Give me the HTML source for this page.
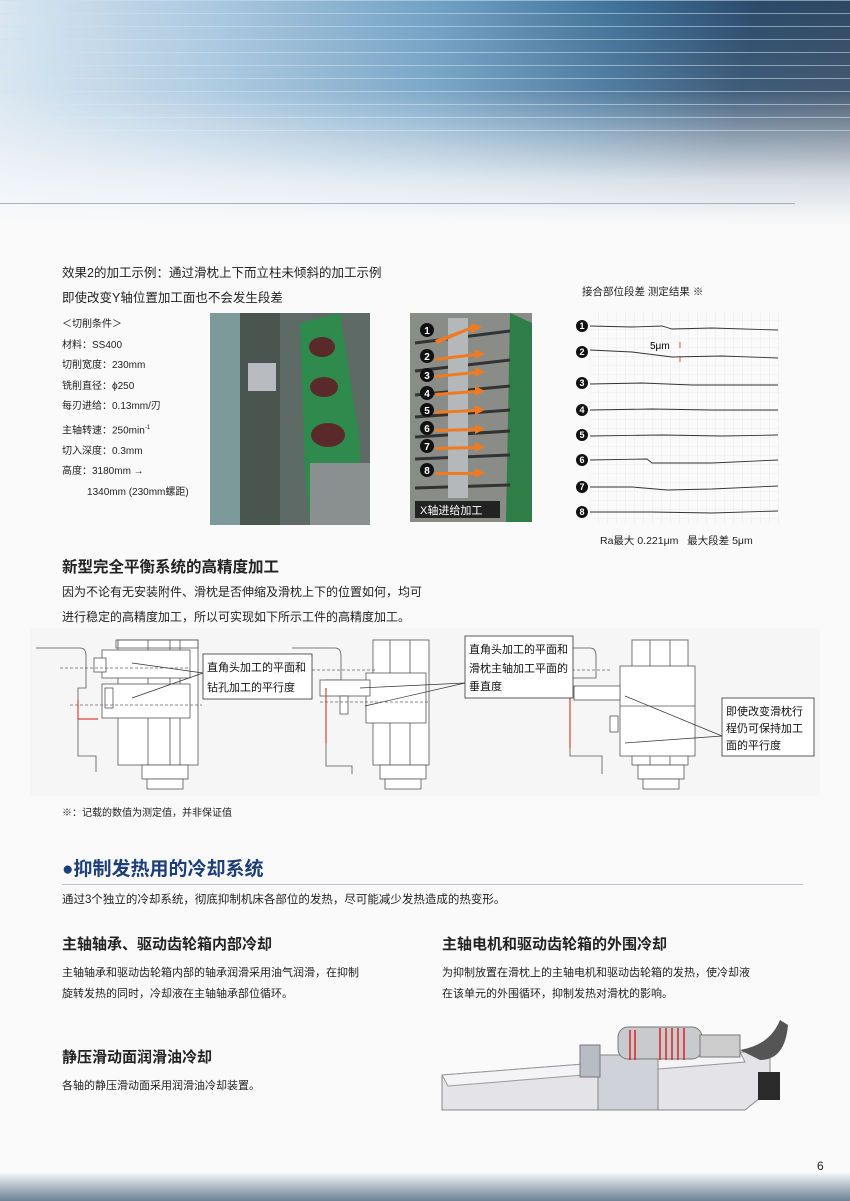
<!DOCTYPE html>
<html><head><meta charset="utf-8"><style>
body{margin:0;width:850px;height:1201px;position:relative;background:#fafafa;font-family:"Liberation Sans","Noto Sans CJK SC",sans-serif;color:#222;overflow:hidden}
.a{position:absolute;white-space:nowrap}
.hdr{position:absolute;left:0;top:0;width:850px;height:225px;background:linear-gradient(100deg,#d9e6f0 0%,#a9c7df 25%,#6f9fc2 50%,#3f6f96 70%,#2a4a6a 85%,#30465e 100%)}
.hdr2{position:absolute;left:0;top:0;width:850px;height:225px;background:linear-gradient(180deg,rgba(255,255,255,0) 0%,rgba(255,255,255,0.1) 40%,rgba(245,247,250,0.85) 80%,#fafafa 100%)}
.stripes{position:absolute;left:0;top:0;width:850px;height:135px;background:repeating-linear-gradient(180deg,rgba(200,225,245,0.55) 0 1px,transparent 1px 13px)}
.s{font-size:10px;line-height:20.6px}
.b{font-weight:bold}
</style></head><body>
<div class="hdr"></div><div class="stripes"></div><div class="hdr2"></div>
<div class="a" style="left:0;top:203px;width:795px;height:1px;background:#a4b2c8"></div>

<div class="a" style="left:62px;top:262px;font-size:12.5px">效果2的加工示例：通过滑枕上下而立柱未倾斜的加工示例</div>
<div class="a" style="left:62px;top:287px;font-size:12.5px">即使改变Y轴位置加工面也不会发生段差</div>
<div class="a s" style="left:62px;top:315px">＜切削条件＞<br>材料：SS400<br>切削宽度：230mm<br>铣削直径：ϕ250<br>每刃进给：0.13mm/刃<br>主轴转速：250min<sup style="font-size:6px">-1</sup><br>切入深度：0.3mm<br>高度：3180mm →<br>&nbsp;&nbsp;&nbsp;&nbsp;&nbsp;&nbsp;&nbsp;&nbsp;&nbsp;1340mm (230mm螺距)</div>

<svg class="a" style="left:210px;top:313px" width="160" height="212">
<rect width="160" height="212" fill="#5d6a66"/>
<rect width="50" height="212" fill="#7d9a9a"/>
<rect x="30" y="0" width="40" height="212" fill="#4a5550"/>
<polygon points="90,10 130,0 150,130 150,212 100,212 95,160" fill="#2f8a4e"/>
<ellipse cx="112" cy="34" rx="13" ry="10" fill="#5a2a2a"/>
<ellipse cx="114" cy="74" rx="14" ry="10" fill="#5a2a2a"/>
<ellipse cx="118" cy="122" rx="17" ry="12" fill="#5a2a2a"/>
<rect x="38" y="50" width="28" height="28" fill="#b8bcc0"/>
<rect x="100" y="150" width="60" height="62" fill="#8a9090"/>
</svg>

<svg class="a" style="left:410px;top:313px" width="122" height="209">
<rect width="122" height="209" fill="#8a8c88"/>
<polygon points="100,0 122,10 122,209 96,209" fill="#2f7d47"/>
<g stroke="#333" stroke-width="3"><line x1="5" y1="30" x2="100" y2="18"/><line x1="5" y1="58" x2="100" y2="47"/><line x1="5" y1="82" x2="100" y2="73"/><line x1="5" y1="104" x2="100" y2="97"/><line x1="5" y1="124" x2="100" y2="118"/><line x1="5" y1="146" x2="100" y2="142"/><line x1="5" y1="175" x2="100" y2="172"/></g>
<rect x="38" y="5" width="20" height="180" fill="#b5b8ba"/>
<g fill="#f07a20"><polygon points="25,27 60,14 62,10 72,14 62,20 60,17 27,31"/><polygon points="25,45 65,40 65,36 75,41 65,46 65,43 25,48"/><polygon points="25,62 65,58 65,54 75,59 65,64 65,61 25,65"/><polygon points="25,80 65,77 65,73 75,78 65,83 65,80 25,83"/><polygon points="25,98 65,96 65,92 75,97 65,102 65,99 25,101"/><polygon points="25,116 65,115 65,111 75,116 65,121 65,118 25,119"/><polygon points="25,134 65,133 65,129 75,134 65,139 65,136 25,137"/><polygon points="25,159 65,159 65,155 75,160 65,165 65,162 25,162"/></g>
<g fill="#111" font-size="11" font-weight="bold" text-anchor="middle"><circle cx="17" cy="17" r="7"/><circle cx="17" cy="43" r="7"/><circle cx="17" cy="62" r="7"/><circle cx="17" cy="80" r="7"/><circle cx="17" cy="97" r="7"/><circle cx="17" cy="115" r="7"/><circle cx="17" cy="133" r="7"/><circle cx="17" cy="157" r="7"/></g>
<g fill="#fff" font-size="10" font-weight="bold" text-anchor="middle" font-family="Liberation Sans"><text x="17" y="21">1</text><text x="17" y="47">2</text><text x="17" y="66">3</text><text x="17" y="84">4</text><text x="17" y="101">5</text><text x="17" y="119">6</text><text x="17" y="137">7</text><text x="17" y="161">8</text></g>
<rect x="5" y="188" width="85" height="17" fill="#222"/>
<text x="10" y="201" fill="#fff" font-size="11" font-family="Liberation Sans,Noto Sans CJK SC">X轴进给加工</text>
</svg>

<div class="a" style="left:582px;top:284px;font-size:10.5px">接合部位段差 测定结果 ※</div>
<svg class="a" style="left:572px;top:312px" width="210" height="212">
<defs><pattern id="g" width="9" height="9" patternUnits="userSpaceOnUse"><path d="M9 0V9H0" fill="none" stroke="#e2e2e2" stroke-width="0.6"/></pattern></defs>
<rect x="18" y="0" width="190" height="212" fill="url(#g)"/>
<g fill="none" stroke="#333" stroke-width="0.9">
<path d="M18 14 L60 15 L90 14 L100 17 L140 16 L206 18"/>
<path d="M18 38 L60 40 L100 45 L150 44 L206 46"/>
<path d="M18 72 L70 71 L120 73 L206 73"/>
<path d="M18 98 L80 97 L140 98 L206 98"/>
<path d="M18 124 L90 123 L150 124 L206 123"/>
<path d="M18 148 L75 147 L80 151 L140 151 L206 148"/>
<path d="M18 175 L60 175 L95 178 L140 177 L206 174"/>
<path d="M18 200 L80 200 L140 201 L206 199"/>
</g>
<g fill="#111"><circle cx="10" cy="14" r="6"/><circle cx="10" cy="40" r="6"/><circle cx="10" cy="71" r="6"/><circle cx="10" cy="98" r="6"/><circle cx="10" cy="123" r="6"/><circle cx="10" cy="148" r="6"/><circle cx="10" cy="175" r="6"/><circle cx="10" cy="200" r="6"/></g>
<g fill="#fff" font-size="9" font-weight="bold" text-anchor="middle" font-family="Liberation Sans"><text x="10" y="17">1</text><text x="10" y="43">2</text><text x="10" y="74">3</text><text x="10" y="101">4</text><text x="10" y="126">5</text><text x="10" y="151">6</text><text x="10" y="178">7</text><text x="10" y="203">8</text></g>
<text x="78" y="37" font-size="10" font-family="Liberation Sans">5μm</text>
<g stroke="#d22" stroke-width="0.8"><line x1="108" y1="30" x2="108" y2="36"/><line x1="108" y1="44" x2="108" y2="50"/></g>
</svg>
<div class="a" style="left:600px;top:533px;font-size:10.5px">Ra最大 0.221μm&nbsp;&nbsp;&nbsp;最大段差 5μm</div>

<div class="a b" style="left:62px;top:555px;font-size:15.5px">新型完全平衡系统的高精度加工</div>
<div class="a" style="left:62px;top:583px;font-size:12px">因为不论有无安装附件、滑枕是否伸缩及滑枕上下的位置如何，均可</div>
<div class="a" style="left:62px;top:608px;font-size:12px">进行稳定的高精度加工，所以可实现如下所示工件的高精度加工。</div>

<svg class="a" style="left:30px;top:628px" width="790" height="168">
<rect width="790" height="168" fill="#f6f6f6"/>
<g fill="#fff" stroke="#555" stroke-width="0.8">
<!-- diagram 1 -->
<path d="M6 20 H50 Q56 20 56 28 V60 H48 V128 H66 V144" fill="none"/>
<rect x="88" y="12" width="80" height="125"/>
<rect x="86" y="12" width="82" height="8" fill="none"/>
<line x1="118" y1="12" x2="118" y2="137"/><line x1="140" y1="12" x2="140" y2="137"/><line x1="150" y1="12" x2="150" y2="137"/>
<rect x="72" y="22" width="88" height="28"/>
<rect x="72" y="56" width="88" height="34"/>
<rect x="64" y="30" width="12" height="14"/>
<rect x="75" y="60" width="8" height="20"/>
<rect x="112" y="137" width="46" height="14"/>
<rect x="117" y="151" width="36" height="10"/>
<!-- diagram 2 -->
<path d="M262 20 H305 Q311 20 311 28 V52 H296 V138 H322 V146" fill="none"/>
<rect x="343" y="12" width="56" height="125"/>
<line x1="360" y1="12" x2="360" y2="137"/><line x1="380" y1="12" x2="380" y2="137"/>
<rect x="336" y="45" width="60" height="50"/>
<rect x="290" y="52" width="50" height="16"/>
<rect x="310" y="68" width="8" height="18"/>
<rect x="350" y="137" width="46" height="14"/>
<rect x="355" y="151" width="36" height="10"/>
<!-- diagram 3 -->
<path d="M512 20 H560 Q566 20 566 28 V50 H540 V128 H572 V146" fill="none"/>
<rect x="602" y="12" width="56" height="125"/>
<line x1="620" y1="12" x2="620" y2="137"/><line x1="640" y1="12" x2="640" y2="137"/>
<rect x="590" y="38" width="75" height="90"/>
<line x1="590" y1="78" x2="665" y2="78"/>
<rect x="544" y="58" width="46" height="14"/>
<rect x="580" y="88" width="8" height="16"/>
<rect x="608" y="137" width="46" height="14"/>
<rect x="613" y="151" width="36" height="10"/>
</g>
<g stroke="#d43" stroke-width="1.2" fill="none"><path d="M48 72 V91 H68"/><path d="M296 60 V115"/><path d="M540 62 V120"/></g>
<g stroke="#666" stroke-width="0.7" stroke-dasharray="3 2" fill="none"><line x1="30" y1="40" x2="160" y2="40"/><line x1="40" y1="77" x2="172" y2="77"/><line x1="262" y1="42" x2="345" y2="42"/><line x1="290" y1="74" x2="400" y2="74"/><line x1="512" y1="42" x2="580" y2="42"/></g>
<g stroke="#333" stroke-width="0.7"><line x1="102" y1="35" x2="173" y2="45"/><line x1="102" y1="70" x2="173" y2="45"/><line x1="330" y1="60" x2="435" y2="55"/><line x1="335" y1="78" x2="435" y2="55"/><line x1="595" y1="68" x2="692" y2="108"/><line x1="595" y1="115" x2="692" y2="108"/></g>
<g fill="#fff" stroke="#333" stroke-width="0.8"><rect x="173" y="26" width="109" height="45"/><rect x="435" y="8" width="108" height="62"/><rect x="692" y="70" width="92" height="58"/></g>
<g font-size="11" fill="#111" font-family="Liberation Sans,Noto Sans CJK SC">
<text x="177" y="43">直角头加工的平面和</text><text x="177" y="63">钻孔加工的平行度</text>
<text x="439" y="25">直角头加工的平面和</text><text x="439" y="44">滑枕主轴加工平面的</text><text x="439" y="62">垂直度</text>
<text x="696" y="87">即使改变滑枕行</text><text x="696" y="104">程仍可保持加工</text><text x="696" y="121">面的平行度</text>
</g>
</svg>

<div class="a" style="left:62px;top:804px;font-size:10px">※：记载的数值为测定值，并非保证值</div>

<div class="a b" style="left:62px;top:854px;font-size:19px;color:#1c3f7a">●抑制发热用的冷却系统</div>
<div class="a" style="left:62px;top:884px;width:741px;height:1px;background:#b8c4d6"></div>
<div class="a" style="left:62px;top:891px;font-size:11.5px">通过3个独立的冷却系统，彻底抑制机床各部位的发热，尽可能减少发热造成的热变形。</div>

<div class="a b" style="left:62px;top:933px;font-size:15px">主轴轴承、驱动齿轮箱内部冷却</div>
<div class="a" style="left:62px;top:963px;font-size:11px;line-height:21px">主轴轴承和驱动齿轮箱内部的轴承润滑采用油气润滑，在抑制<br>旋转发热的同时，冷却液在主轴轴承部位循环。</div>
<div class="a b" style="left:442px;top:933px;font-size:15px">主轴电机和驱动齿轮箱的外围冷却</div>
<div class="a" style="left:442px;top:963px;font-size:11px;line-height:21px">为抑制放置在滑枕上的主轴电机和驱动齿轮箱的发热，使冷却液<br>在该单元的外围循环，抑制发热对滑枕的影响。</div>
<div class="a b" style="left:62px;top:1046px;font-size:15px">静压滑动面润滑油冷却</div>
<div class="a" style="left:62px;top:1077px;font-size:11px">各轴的静压滑动面采用润滑油冷却装置。</div>

<svg class="a" style="left:440px;top:1020px" width="380" height="95">
<polygon points="2,55 300,32 330,32 330,70 305,90 2,90" fill="#e4e4e8" stroke="#888"/>
<polygon points="2,55 300,32 305,42 8,66" fill="#f4f4f6" stroke="#999"/>
<rect x="158" y="35" width="60" height="55" fill="#cfd2d8" stroke="#888"/>
<rect x="140" y="25" width="20" height="32" fill="#b8bcc4" stroke="#777"/>
<rect x="178" y="7" width="84" height="32" rx="10" fill="#c8cacd" stroke="#777"/>
<g stroke="#d22" stroke-width="1.5" fill="none"><path d="M190 10v30M195 10v30M220 8v32M226 8v32M232 8v32M238 8v32M244 8v32"/></g>
<rect x="260" y="15" width="40" height="22" fill="#ccc" stroke="#777"/>
<path d="M300 30 Q330 25 340 0 L348 5 Q345 40 320 40 Z" fill="#555"/>
<rect x="318" y="52" width="22" height="28" fill="#2a2a2a"/>
</svg>

<div class="a" style="left:817px;top:1159px;font-size:12px">6</div>
<div class="a" style="left:0;top:1172px;width:850px;height:29px;background:linear-gradient(180deg,#fafafa 0%,#b8c2cc 45%,#6f8396 100%)"></div>
</body></html>
